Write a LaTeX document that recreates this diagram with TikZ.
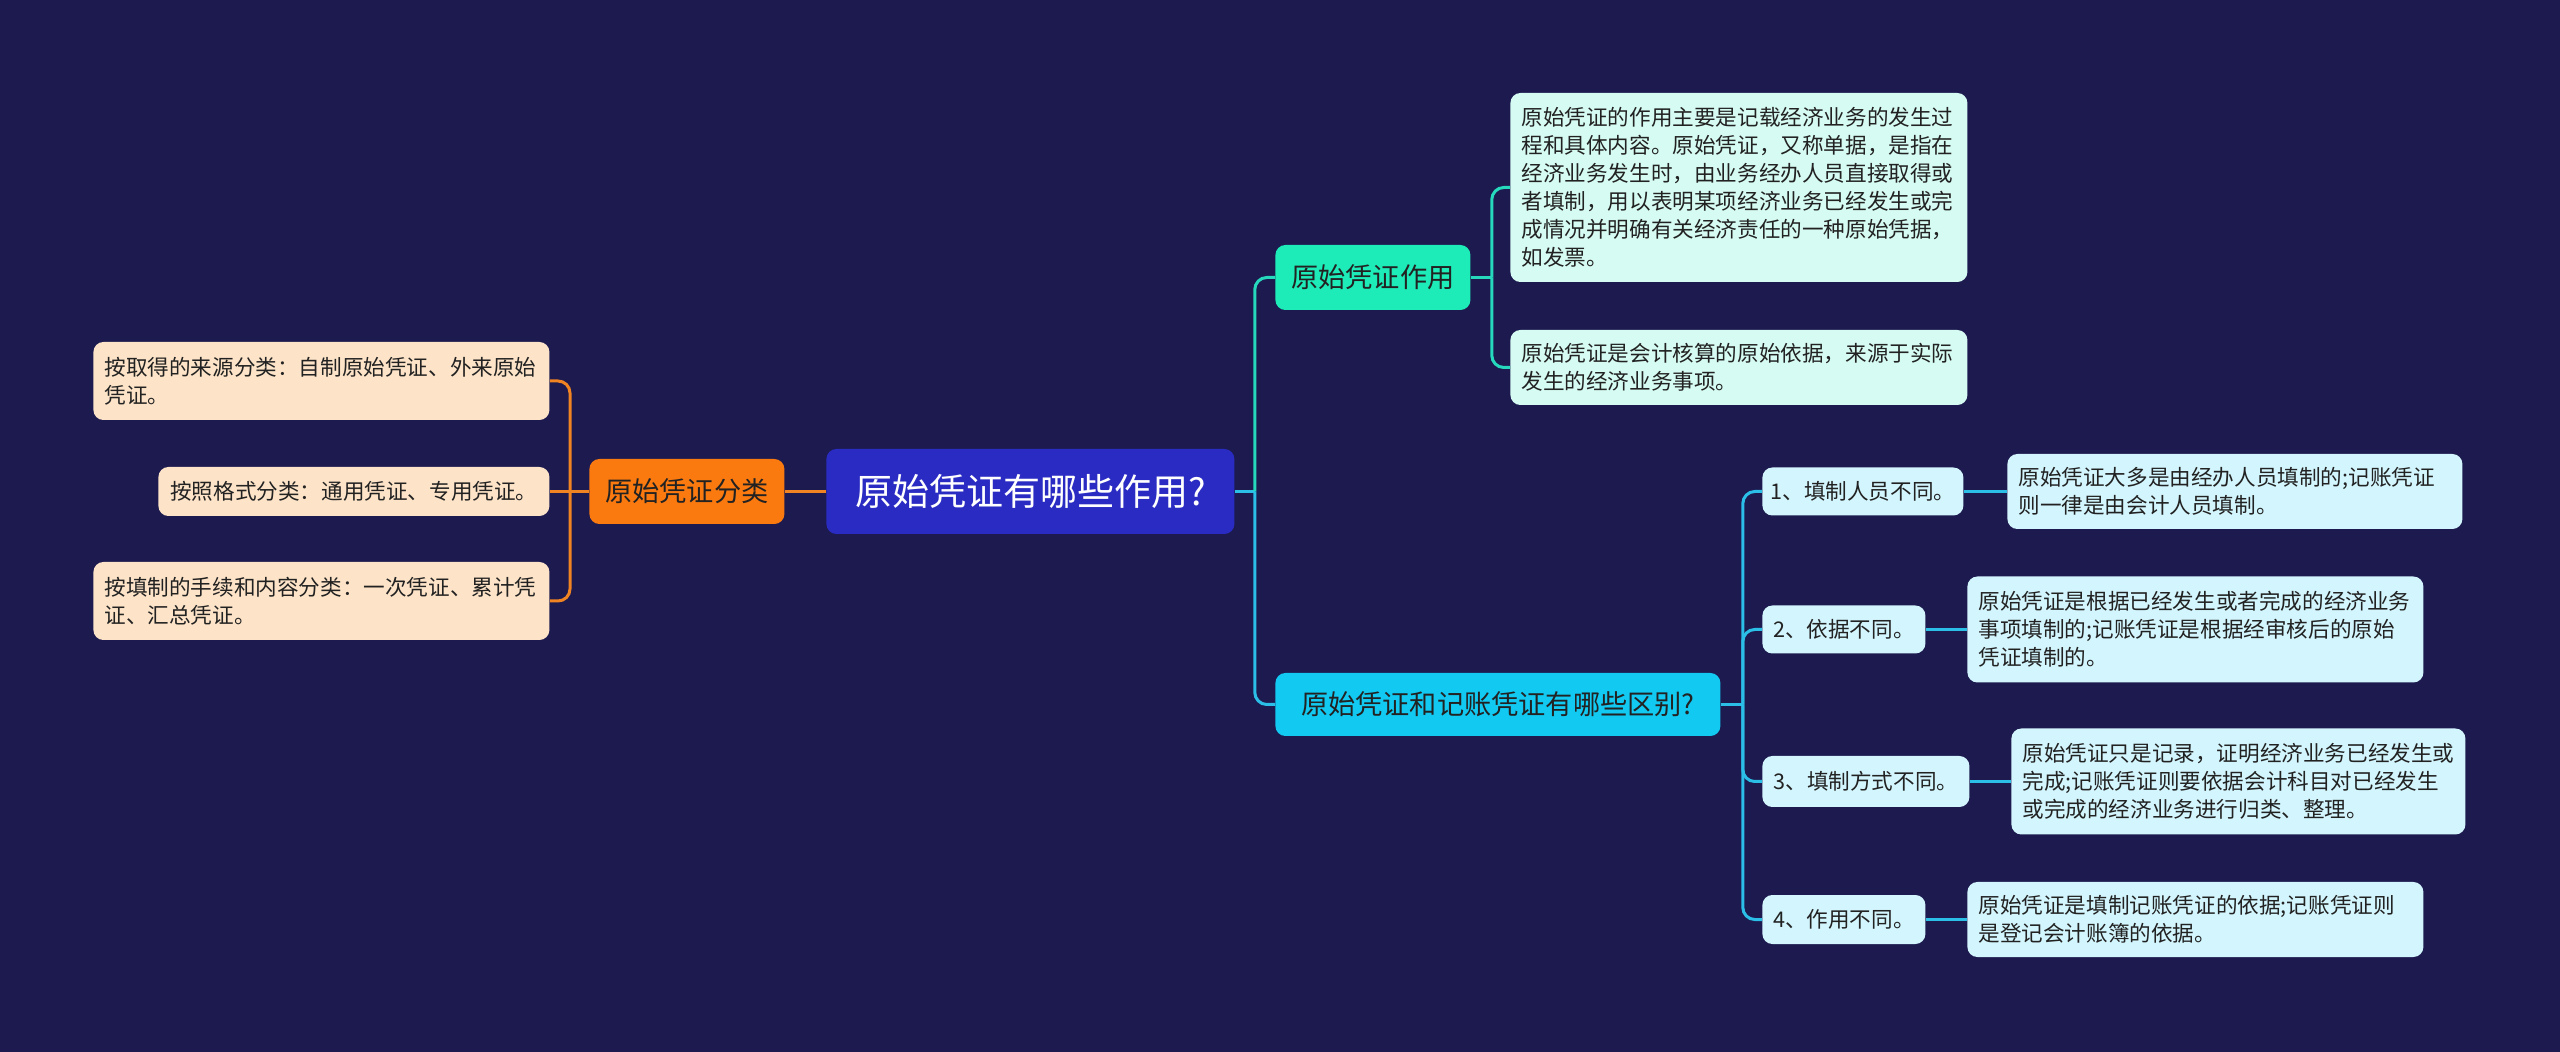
\documentclass[tikz,border=0pt]{standalone}
\usepackage{fontspec}
\setmainfont{Noto Sans CJK SC}
\definecolor{bg}{HTML}{1C1A4F}
\definecolor{rootc}{HTML}{2A2BC3}
\definecolor{orng}{HTML}{FB7A10}
\definecolor{orngline}{HTML}{F08322}
\definecolor{peach}{HTML}{FDE4C8}
\definecolor{teal}{HTML}{1DEBB8}
\definecolor{tealline}{HTML}{26D9BD}
\definecolor{mint}{HTML}{D6FBF2}
\definecolor{sky}{HTML}{12C9F2}
\definecolor{skyline}{HTML}{2BBFE8}
\definecolor{ice}{HTML}{D3F5FD}
\definecolor{ink}{HTML}{222222}
\tikzset{
  box/.style={rounded corners=5pt, inner xsep=0pt, inner ysep=0pt, anchor=west, text=ink},
  small/.style={font=\fontsize{10.8pt}{14pt}\selectfont},
  mid/.style={font=\fontsize{13.6pt}{17pt}\selectfont},
  para/.style={small, align=left, inner xsep=5.5pt},
  oline/.style={draw=orngline, line width=1.5pt},
  tline/.style={draw=tealline, line width=1.5pt},
  cline/.style={draw=skyline, line width=1.5pt},
  rc/.style={rounded corners=6pt},
}
\begin{document}
\begin{tikzpicture}[x=0.5pt, y=-0.5pt]
\fill[bg] (0,0) rectangle (2560,1052);
\useasboundingbox (0,0) rectangle (2560,1052);

% root
\node[box, fill=rootc, text=white, minimum width=204pt, minimum height=42.5pt,
      font=\fontsize{18.5pt}{22pt}\selectfont] (root) at (826,491.5) {原始凭证有哪些作用?};

% left branch
\node[box, fill=orng, mid, minimum width=97.5pt, minimum height=32.5pt] (cls) at (589,491.5) {原始凭证分类};
\node[box, fill=peach, para, text width=217pt, minimum height=39pt] (l1) at (93,381) {按取得的来源分类：自制原始凭证、外来原始\\凭证。};
\node[box, fill=peach, small, minimum width=195.5pt, minimum height=24.5pt] (l2) at (158,491.5) {按照格式分类：通用凭证、专用凭证。};
\node[box, fill=peach, para, text width=217pt, minimum height=39pt] (l3) at (93,601) {按填制的手续和内容分类：一次凭证、累计凭\\证、汇总凭证。};

\coordinate (jL) at ([xshift=-9.5pt]cls.west);
\draw[oline] (root.west) -- (cls.east);
\draw[oline] (cls.west) -- (l2.east);
\draw[oline, rc] (jL) |- (l1.east);
\draw[oline, rc] (jL) |- (l3.east);

% right branch
\node[box, fill=teal, mid, minimum width=97.5pt, minimum height=32.5pt] (use) at (1275,277.5) {原始凭证作用};
\node[box, fill=sky, mid, minimum width=222.5pt, minimum height=31.5pt] (diff) at (1275,704.5) {原始凭证和记账凭证有哪些区别?};

\coordinate (jR) at ([xshift=10pt]root.east);
\draw[cline] (root.east) -- (jR);
\draw[tline, rc] (jR) |- (use.west);
\draw[cline, rc] (jR) |- (diff.west);

% use details
\node[box, fill=mint, para, text width=217.5pt, minimum height=94.5pt] (ua) at (1510,187.5) {原始凭证的作用主要是记载经济业务的发生过\\程和具体内容。原始凭证，又称单据，是指在\\经济业务发生时，由业务经办人员直接取得或\\者填制，用以表明某项经济业务已经发生或完\\成情况并明确有关经济责任的一种原始凭据，\\如发票。};
\node[box, fill=mint, para, text width=217.5pt, minimum height=37.5pt] (ub) at (1510,367.5) {原始凭证是会计核算的原始依据，来源于实际\\发生的经济业务事项。};

\coordinate (jU) at ([xshift=10.5pt]use.east);
\draw[tline] (use.east) -- (jU);
\draw[tline, rc] (jU) |- (ua.west);
\draw[tline, rc] (jU) |- (ub.west);

% differences
\node[box, fill=ice, small, minimum width=100.5pt, minimum height=24pt] (s1) at (1762,491.5) {1、填制人员不同。};
\node[box, fill=ice, small, minimum width=81.5pt, minimum height=24pt] (s2) at (1762,629.5) {2、依据不同。};
\node[box, fill=ice, small, minimum width=103.5pt, minimum height=25.5pt] (s3) at (1762,781.5) {3、填制方式不同。};
\node[box, fill=ice, small, minimum width=81.5pt, minimum height=24.5pt] (s4) at (1762,919.5) {4、作用不同。};

\node[box, fill=ice, para, text width=216.5pt, minimum height=37.5pt] (d1) at (2007,491.5) {原始凭证大多是由经办人员填制的;记账凭证\\则一律是由会计人员填制。};
\node[box, fill=ice, para, text width=217pt, minimum height=53pt] (d2) at (1967,629.5) {原始凭证是根据已经发生或者完成的经济业务\\事项填制的;记账凭证是根据经审核后的原始\\凭证填制的。};
\node[box, fill=ice, para, text width=216pt, minimum height=53pt] (d3) at (2011,781.5) {原始凭证只是记录，证明经济业务已经发生或\\完成;记账凭证则要依据会计科目对已经发生\\或完成的经济业务进行归类、整理。};
\node[box, fill=ice, para, text width=217pt, minimum height=37.5pt] (d4) at (1967,919.5) {原始凭证是填制记账凭证的依据;记账凭证则\\是登记会计账簿的依据。};

\coordinate (jD) at ([xshift=11pt]diff.east);
\draw[cline] (diff.east) -- (jD);
\draw[cline, rc] (jD) |- (s1.west);
\draw[cline, rc] (jD) |- (s2.west);
\draw[cline, rc] (jD) |- (s3.west);
\draw[cline, rc] (jD) |- (s4.west);

\draw[cline] (s1.east) -- (d1.west);
\draw[cline] (s2.east) -- (d2.west);
\draw[cline] (s3.east) -- (d3.west);
\draw[cline] (s4.east) -- (d4.west);
\end{tikzpicture}
\end{document}
